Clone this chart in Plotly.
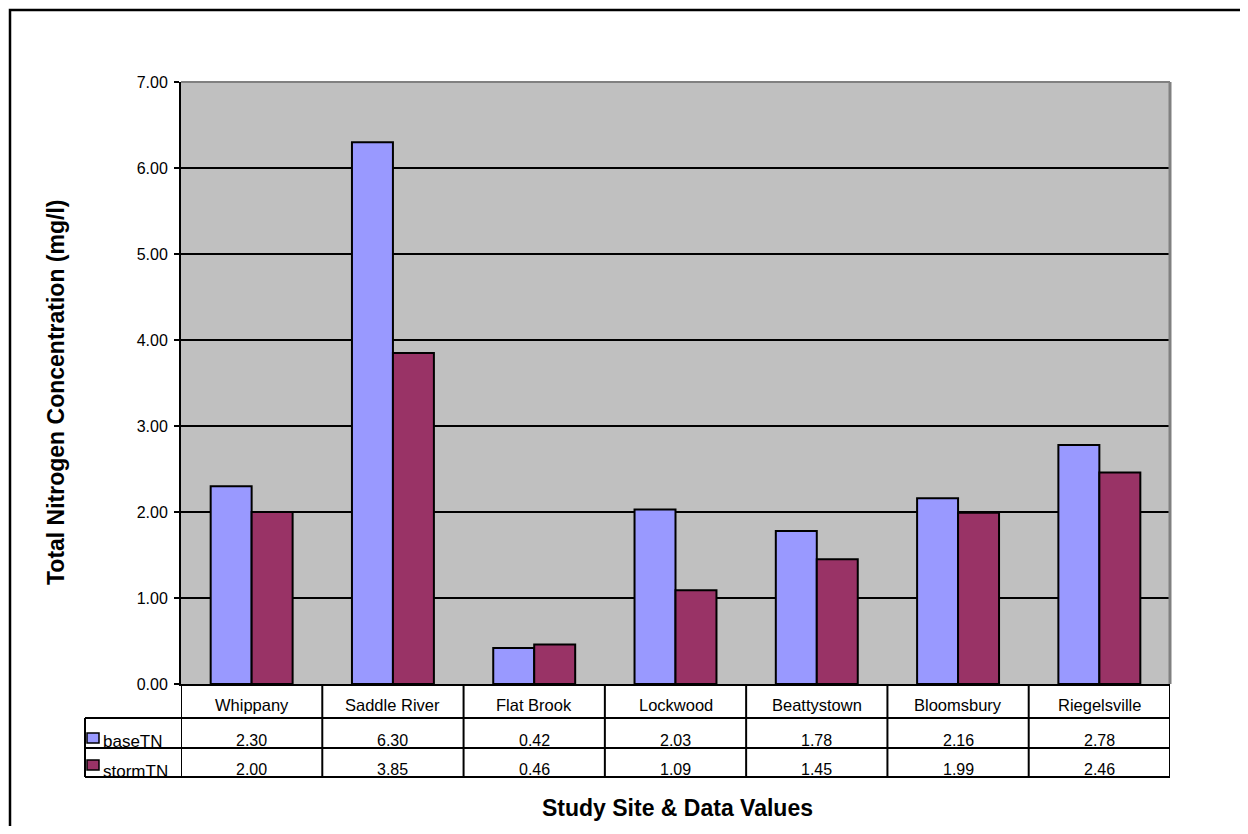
import plotly.graph_objects as go

categories = ["Whippany", "Saddle River", "Flat Brook", "Lockwood", "Beattystown", "Bloomsbury", "Riegelsville"]
base_tn = [2.30, 6.30, 0.42, 2.03, 1.78, 2.16, 2.78]
storm_tn = [2.00, 3.85, 0.46, 1.09, 1.45, 1.99, 2.46]
series_names = ["baseTN", "stormTN"]
series_colors = ["#9999FF", "#993366"]
y_ticks = [0, 1, 2, 3, 4, 5, 6, 7]

# page is offset by the browser's 8px body margin
OFF = 8
W, H = 1248 - 2 * OFF, 834 - 2 * OFF
# plot area in page pixels
L, R, T, B = 181, 1170, 82, 684
pw, ph = R - L, B - T

def px(xp):
    return (xp - L) / pw

def py(yp):
    return (B - yp) / ph

FONT = "Liberation Sans, Arial, sans-serif"
TXT = dict(family=FONT, size=16, color="black")
CAT = dict(family=FONT, size=16.5, color="black")
LEG = dict(family=FONT, size=17, color="black")

fig = go.Figure()
for name, vals, col in zip(series_names, [base_tn, storm_tn], series_colors):
    fig.add_trace(go.Bar(
        x=categories, y=vals, name=name,
        marker=dict(color=col, line=dict(color="black", width=2)),
        showlegend=False,
    ))

shapes = []
annotations = []

def note(**kw):
    kw.setdefault("xanchor", "center")
    kw.setdefault("yanchor", "middle")
    kw.setdefault("showarrow", False)
    annotations.append(kw)

# outer border (extends past right/bottom edge)
shapes.append(dict(type="rect", xref="paper", yref="paper",
                   x0=px(10), x1=px(1280), y0=py(10), y1=py(880),
                   line=dict(color="black", width=2.5), layer="below"))
# gray top and right plot border
shapes.append(dict(type="line", xref="paper", yref="paper",
                   x0=0, x1=1, y0=1, y1=1, line=dict(color="#808080", width=2)))
shapes.append(dict(type="line", xref="paper", yref="paper",
                   x0=1, x1=1, y0=0, y1=1, line=dict(color="#808080", width=3)))

# table
row_lines = [718, 748, 777]
for yl in row_lines:
    shapes.append(dict(type="line", xref="paper", yref="paper",
                       x0=px(85), x1=1, y0=py(yl), y1=py(yl),
                       line=dict(color="black", width=2)))
shapes.append(dict(type="line", xref="paper", yref="paper",
                   x0=px(85), x1=px(85), y0=py(718), y1=py(777),
                   line=dict(color="black", width=2)))
for k in range(len(categories) + 1):
    shapes.append(dict(type="line", xref="x", yref="paper",
                       x0=k - 0.5, x1=k - 0.5, y0=0, y1=py(777),
                       line=dict(color="black", width=2)))

for i, c in enumerate(categories):
    note(x=i, y=py(705), xref="x", yref="paper", text=c, font=CAT)
    note(x=i, y=py(740), xref="x", yref="paper", text=f"{base_tn[i]:.2f}", font=TXT)
    note(x=i, y=py(769), xref="x", yref="paper", text=f"{storm_tn[i]:.2f}", font=TXT)

# legend keys in table
key_rows = [(733, 743, 741), (760, 770, 771)]
for (k0, k1, ty), name, col in zip(key_rows, series_names, series_colors):
    shapes.append(dict(type="rect", xref="paper", yref="paper",
                       x0=px(87), x1=px(99), y0=py(k1), y1=py(k0),
                       fillcolor=col, line=dict(color="black", width=1.5)))
    note(x=px(101), y=py(ty), xref="paper", yref="paper", text=name,
         xanchor="left", font=LEG)

# axis titles
note(x=px(56), y=py(393), xref="paper", yref="paper",
     text="<b>Total Nitrogen Concentration (mg/l)</b>", textangle=-90,
     font=dict(family=FONT, size=23, color="black"))
note(x=px(677), y=py(808), xref="paper", yref="paper",
     text="<b>Study Site & Data Values</b>",
     font=dict(family=FONT, size=23, color="black"))

fig.update_layout(
    width=W, height=H,
    margin=dict(l=L - OFF, r=W - (R - OFF), t=T - OFF, b=H - (B - OFF), pad=0),
    paper_bgcolor="white", plot_bgcolor="#C0C0C0",
    barmode="group", bargap=0.42, bargroupgap=0,
    shapes=shapes, annotations=annotations,
    xaxis=dict(showticklabels=False, ticks="", showgrid=False,
               showline=True, linecolor="black", linewidth=2,
               range=[-0.5, len(categories) - 0.5], fixedrange=True),
    yaxis=dict(range=[0, 7], tickvals=y_ticks, ticktext=[f"{v:.2f}" for v in y_ticks],
               showgrid=True, gridcolor="black", gridwidth=2,
               zeroline=False, showline=True, linecolor="black", linewidth=2,
               ticks="outside", ticklen=5, tickwidth=2, tickcolor="black",
               ticklabelstandoff=3,
               tickfont=dict(family=FONT, size=16, color="black")),
    font=dict(family=FONT, color="black"),
)

fig.write_html("out.html")
